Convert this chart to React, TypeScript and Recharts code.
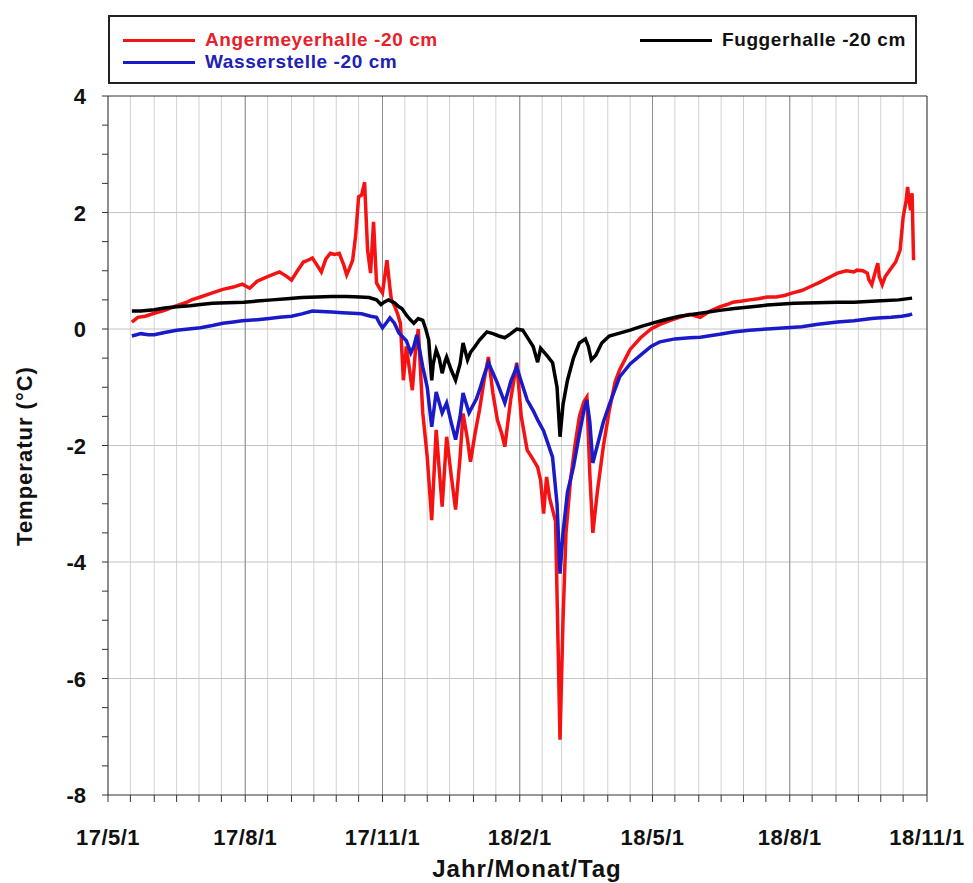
import React from "react";
import { LineChart, Line, XAxis, YAxis, CartesianGrid, ReferenceLine } from "recharts";

// day offsets are counted from 2017-05-01
const START = Date.UTC(2017, 4, 1);
const dayOf = (y: number, m: number, d: number) => Math.round((Date.UTC(y, m - 1, d) - START) / 86400000);

const quarterDates: [number, number][] = [[2017, 5], [2017, 8], [2017, 11], [2018, 2], [2018, 5], [2018, 8], [2018, 11]];
const quarterLabels = ["17/5/1", "17/8/1", "17/11/1", "18/2/1", "18/5/1", "18/8/1", "18/11/1"];
const quarterDays = quarterDates.map(([y, m]) => dayOf(y, m, 1));
const lastDay = quarterDays[quarterDays.length - 1];

// grid every 1st and 16th of month
const gridDays: number[] = [];
for (let i = 0; i < 18; i++) {
	const y = 2017 + Math.floor((4 + i) / 12);
	const m = ((4 + i) % 12) + 1;
	gridDays.push(dayOf(y, m, 1), dayOf(y, m, 16));
}
gridDays.push(lastDay);

const yMajor = [-8, -6, -4, -2, 0, 2, 4];
const yMinor = [-8, -7.5, -7, -6.5, -6, -5.5, -5, -4.5, -4, -3.5, -3, -2.5, -2, -1.5, -1, -0.5, 0, 0.5, 1, 1.5, 2, 2.5, 3, 3.5, 4];

// [day, °C]
const angermeyerhalle: [number, number][] = [
	[16, 0.12], [20, 0.2], [25, 0.22], [31, 0.27], [38, 0.32], [46, 0.4], [52, 0.45], [56, 0.5], [62, 0.55],
	[70, 0.62], [77, 0.68], [84, 0.72], [90, 0.77], [95, 0.7], [100, 0.82], [107, 0.9], [112, 0.95], [115, 0.98],
	[120, 0.9], [123, 0.84], [127, 1.0], [131, 1.15], [134, 1.18], [137, 1.22], [140, 1.1], [143, 0.98], [146, 1.2],
	[149, 1.3], [152, 1.28], [155, 1.3], [158, 1.1], [160, 0.93], [162, 1.05], [164, 1.18], [166, 1.6], [168, 2.27],
	[170, 2.3], [172, 2.52], [174, 1.36], [176, 0.96], [178, 1.84], [180, 0.79], [182, 0.7], [184, 0.62], [187, 1.18],
	[189, 0.7], [190, 0.5], [192, 0.4], [194, 0.27], [196, 0.1], [198, -0.88], [200, -0.3], [204, -1.05], [206, -0.4],
	[208, 0.0], [211, -1.44], [214, -2.2], [217, -3.28], [220, -1.73], [222, -2.4], [224, -3.05], [227, -1.85],
	[230, -2.5], [233, -3.1], [236, -2.2], [238, -1.45], [241, -1.9], [243, -2.28], [246, -1.8], [249, -1.39],
	[252, -0.9], [255, -0.48], [258, -1.1], [261, -1.56], [264, -1.8], [266, -2.02], [270, -1.2], [274, -0.58],
	[277, -1.5], [281, -2.08], [284, -2.2], [288, -2.37], [290, -2.6], [292, -3.17], [294, -2.54], [296, -2.9],
	[298, -3.1], [300, -3.3], [303, -7.05], [305, -5.0], [307, -3.5], [310, -2.6], [313, -2.0], [316, -1.5],
	[319, -1.25], [321, -1.17], [323, -2.5], [325, -3.5], [328, -2.8], [332, -2.02], [336, -1.4], [340, -0.9],
	[343, -0.7], [347, -0.5], [350, -0.35], [357, -0.15], [364, 0.0], [370, 0.08], [377, 0.15], [383, 0.2],
	[390, 0.25], [397, 0.2], [403, 0.3], [410, 0.38], [415, 0.42], [419, 0.46], [425, 0.48], [430, 0.5], [436, 0.52],
	[442, 0.55], [448, 0.55], [454, 0.58], [459, 0.62], [465, 0.66], [471, 0.73], [477, 0.8], [483, 0.88], [489, 0.96],
	[495, 1.0], [500, 0.98], [502, 1.01], [506, 1.0], [509, 0.96], [510, 0.85], [512, 0.76], [514, 0.95], [516, 1.13],
	[517, 0.9], [519, 0.76], [521, 0.9], [524, 1.01], [528, 1.15], [531, 1.36], [533, 1.92], [535, 2.2], [536, 2.44],
	[537, 2.2], [538, 2.04], [539, 2.33], [540, 1.18],
];

const wasserstelle: [number, number][] = [
	[16, -0.12], [22, -0.08], [27, -0.1], [31, -0.1], [38, -0.06], [46, -0.02], [54, 0.0], [62, 0.02], [70, 0.06],
	[77, 0.1], [84, 0.12], [90, 0.14], [100, 0.16], [108, 0.18], [115, 0.2], [123, 0.22], [130, 0.26], [137, 0.31],
	[143, 0.3], [150, 0.29], [157, 0.28], [164, 0.27], [170, 0.26], [176, 0.22], [180, 0.2], [182, 0.1], [184, 0.02],
	[187, 0.12], [189, 0.19], [192, 0.1], [195, -0.07], [200, -0.2], [203, -0.41], [205, -0.3], [207, -0.1],
	[211, -0.65], [214, -1.0], [217, -1.68], [220, -1.08], [224, -1.44], [227, -1.27], [230, -1.6], [233, -1.9],
	[236, -1.5], [238, -1.1], [242, -1.44], [247, -1.2], [249, -1.05], [252, -0.8], [255, -0.58], [258, -0.75],
	[261, -0.93], [266, -1.27], [270, -0.9], [274, -0.65], [277, -0.9], [281, -1.22], [285, -1.4], [288, -1.56],
	[292, -1.75], [294, -1.9], [298, -2.2], [301, -3.0], [303, -4.2], [305, -3.5], [308, -2.8], [312, -2.37],
	[316, -1.8], [319, -1.4], [321, -1.22], [323, -1.6], [325, -2.3], [328, -2.0], [332, -1.6], [336, -1.3],
	[343, -0.82], [350, -0.6], [357, -0.45], [364, -0.3], [370, -0.22], [380, -0.17], [390, -0.15], [397, -0.14],
	[410, -0.09], [419, -0.05], [430, -0.02], [442, 0.0], [455, 0.02], [465, 0.04], [476, 0.08], [489, 0.12],
	[500, 0.14], [512, 0.18], [516, 0.19], [525, 0.2], [532, 0.22], [537, 0.24], [539, 0.26],
];

const fuggerhalle: [number, number][] = [
	[16, 0.31], [22, 0.31], [31, 0.33], [38, 0.36], [46, 0.38], [55, 0.4], [62, 0.42], [70, 0.44], [80, 0.45],
	[91, 0.46], [100, 0.48], [110, 0.5], [120, 0.52], [130, 0.54], [140, 0.55], [150, 0.56], [160, 0.56], [169, 0.55],
	[175, 0.54], [180, 0.5], [183, 0.42], [185, 0.46], [188, 0.5], [192, 0.45], [195, 0.38], [197, 0.35], [200, 0.24],
	[203, 0.15], [205, 0.1], [208, 0.18], [211, 0.15], [213, 0.0], [215, -0.19], [217, -0.88], [218, -0.6],
	[220, -0.36], [222, -0.5], [224, -0.76], [226, -0.55], [227, -0.48], [230, -0.7], [233, -0.88], [236, -0.6],
	[238, -0.24], [241, -0.53], [243, -0.4], [246, -0.3], [249, -0.19], [254, -0.05], [258, -0.08], [262, -0.12],
	[266, -0.15], [270, -0.08], [274, 0.0], [278, -0.02], [281, -0.14], [285, -0.3], [288, -0.57], [290, -0.33],
	[294, -0.45], [298, -0.58], [301, -1.0], [303, -1.85], [305, -1.3], [308, -0.88], [312, -0.5], [316, -0.24],
	[320, -0.17], [322, -0.3], [324, -0.53], [327, -0.45], [331, -0.24], [336, -0.12], [343, -0.07], [350, -0.02],
	[357, 0.04], [365, 0.1], [372, 0.15], [383, 0.22], [397, 0.27], [410, 0.32], [420, 0.35], [442, 0.41], [460, 0.44],
	[475, 0.45], [489, 0.46], [500, 0.46], [515, 0.48], [530, 0.5], [539, 0.53],
];

const toRows = (pts: [number, number][]) => pts.map(([day, temp]) => ({ day, temp }));

const series = [
	{ name: "Angermeyerhalle -20 cm", color: "#f51212", text: "#e8202a", data: toRows(angermeyerhalle), left: 13, top: 12 },
	{ name: "Wasserstelle -20 cm", color: "#1a1ac8", text: "#2020b8", data: toRows(wasserstelle), left: 13, top: 34 },
	{ name: "Fuggerhalle -20 cm", color: "#000000", text: "#111111", data: toRows(fuggerhalle), left: 530, top: 12 },
];

const FONT = "'Liberation Sans', Arial, sans-serif";
const AXIS = "#333";

const BottomTick = (props: any) => {
	const { x, y, payload } = props;
	const i = quarterDays.indexOf(payload.value);
	if (i < 0) return <g />;
	return (
		<text x={x} y={y + 41} textAnchor="middle" fontFamily={FONT} fontWeight="bold" fontSize={22} letterSpacing={0.5} fill="#111">
			{quarterLabels[i]}
		</text>
	);
};

const LeftTick = (props: any) => {
	const { x, y, payload } = props;
	if (!yMajor.includes(payload.value)) return <g />;
	return (
		<text x={x - 14} y={y + 8} textAnchor="end" fontFamily={FONT} fontWeight="bold" fontSize={22} fill="#111">
			{payload.value}
		</text>
	);
};

export default function App() {
	return (
		<div style={{ position: "absolute", left: 0, top: 0, width: 973, height: 883, background: "#fff", fontFamily: FONT }}>
			<LineChart width={973} height={883} margin={{ top: 91, right: 36, bottom: 0, left: 8 }}>
				<CartesianGrid horizontal={false} stroke="#d2d2d2" strokeWidth={1} />
				{[-6, -4, -2, 0, 2].map((v) => (
					<ReferenceLine key={"h" + v} y={v} stroke="#c4c4c4" strokeWidth={1} />
				))}
				{quarterDays.slice(1, -1).map((d) => (
					<ReferenceLine key={"v" + d} x={d} stroke="#8e8e8e" strokeWidth={1} />
				))}
				<XAxis
					dataKey="day"
					type="number"
					domain={[0, lastDay]}
					ticks={gridDays}
					interval={0}
					height={88}
					tickSize={7}
					stroke={AXIS}
					tick={<BottomTick />}
					allowDataOverflow
					label={{
						content: () => (
							<text x={527} y={877} textAnchor="middle" fontFamily={FONT} fontWeight="bold" fontSize={24} letterSpacing={1} fill="#111">
								Jahr/Monat/Tag
							</text>
						),
					}}
				/>
				<XAxis xAxisId="top" orientation="top" type="number" domain={[0, lastDay]} ticks={gridDays} interval={0} height={5} tickSize={5} stroke={AXIS} tick={false} />
				<YAxis
					type="number"
					domain={[-8, 4]}
					ticks={yMinor}
					interval={0}
					width={100}
					tickSize={6}
					stroke={AXIS}
					tick={<LeftTick />}
					label={{
						content: () => (
							<text transform="translate(24, 456) rotate(-90)" textAnchor="middle" dominantBaseline="central" fontFamily={FONT} fontWeight="bold" fontSize={22} letterSpacing={1} fill="#111">
								Temperatur (°C)
							</text>
						),
					}}
				/>
				<YAxis yAxisId="right" orientation="right" type="number" domain={[-8, 4]} ticks={yMinor} interval={0} width={10} tickSize={6} stroke={AXIS} tick={false} />
				{series.map((s) => (
					<Line key={s.name} data={s.data} dataKey="temp" name={s.name} type="linear" stroke={s.color} strokeWidth={3.5} dot={false} isAnimationActive={false} />
				))}
			</LineChart>
			<div style={{ position: "absolute", left: 108, top: 15, width: 809, height: 69, border: "2px solid #222", boxSizing: "border-box", background: "#fff" }}>
				{series.map((s) => (
					<div key={s.name} style={{ position: "absolute", left: s.left, top: s.top, height: 22, display: "flex", alignItems: "center", whiteSpace: "nowrap" }}>
						<span style={{ display: "inline-block", width: 72, height: 3, background: s.color, marginRight: 10 }} />
						<span style={{ color: s.text, fontWeight: "bold", fontSize: 19, letterSpacing: 0.6 }}>{s.name}</span>
					</div>
				))}
			</div>
		</div>
	);
}
